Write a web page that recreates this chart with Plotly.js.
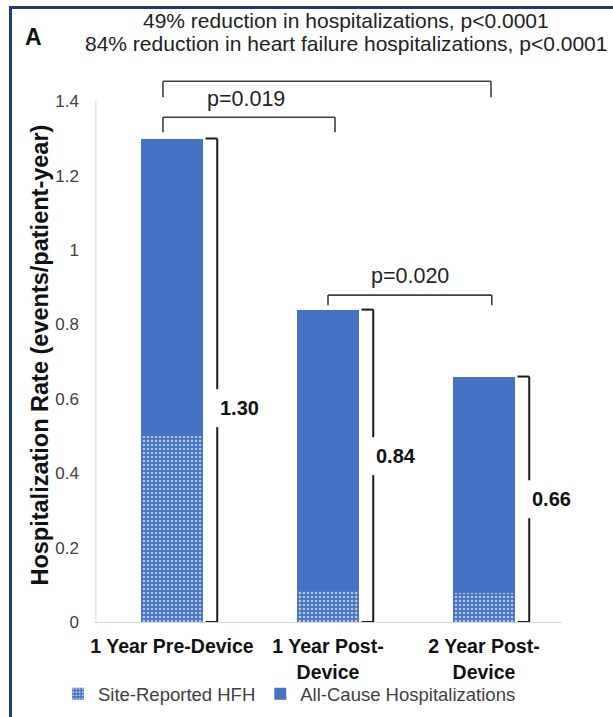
<!DOCTYPE html>
<html>
<head>
<meta charset="utf-8">
<script src="https://cdn.plot.ly/plotly-3.0.1.min.js"></script>
<style>
  html, body { margin: 0; padding: 0; background: #ffffff; }
  #wrap { position: relative; width: 613px; height: 717px; overflow: hidden; }
  #chart { position: absolute; left: 0; top: 0; width: 613px; height: 717px; }
  #frame { position: absolute; left: 9px; top: 6px; width: 620px; height: 720px;
           border-left: 3px solid #1d3b7c; border-top: 3px solid #1d3b7c; pointer-events: none; }
</style>
</head>
<body>
<div id="wrap">
  <div id="chart"></div>
  <div id="frame"></div>
</div>
<script>
// ---- data ----
const categories = ['1 Year Pre-Device', '1 Year Post-Device', '2 Year Post-Device'];
const tickLabels = ['1 Year Pre-Device', '1 Year Post-<br>Device', '2 Year Post-<br>Device'];
const allCauseTotal = [1.30, 0.84, 0.66];
const siteReportedHFH = [0.50, 0.086, 0.078];
const totalLabels = ['1.30', '0.84', '0.66'];
const yTickVals = [0, 0.2, 0.4, 0.6, 0.8, 1, 1.2, 1.4];
const yTickText = ['0', '0.2', '0.4', '0.6', '0.8', '1', '1.2', '1.4'];
const titleLines = ['49% reduction in hospitalizations, p<0.0001',
                    '84% reduction in heart failure hospitalizations, p<0.0001'];
const pValues = ['p=0.019', 'p=0.020'];

// remainder on top of HFH so stack totals equal all-cause totals
const allCauseRemainder = allCauseTotal.map((t, i) => +(t - siteReportedHFH[i]).toFixed(3));
const idx = categories.map((_, i) => i);

const FONT = 'Liberation Sans, Arial, sans-serif';
const BLUE = '#4472c4';
const traces = [
  {
    type: 'bar', name: 'Site-Reported HFH', x: idx, y: siteReportedHFH,
    width: 0.4,
    marker: { color: BLUE, line: { width: 0 },
      pattern: { shape: '.', bgcolor: BLUE, fgcolor: '#b4c7ec', size: 4, solidity: 0.35, fillmode: 'replace' } },
    hoverinfo: 'skip'
  },
  {
    type: 'bar', name: 'All-Cause Hospitalizations', x: idx, y: allCauseRemainder,
    width: 0.4,
    marker: { color: BLUE, line: { width: 0 } },
    hoverinfo: 'skip'
  }
];

// ---- decorations (positions) ----
const shapes = [];
const annotations = [];
const BR = '#1a1a1a';
const bracketOffset = 0.29, tickStart = 0.215;
const labelY = [0.575, 0.446, 0.33];
const gapHalf = 0.051;
idx.forEach(i => {
  const xb = i + bracketOffset, xt = i + tickStart, top = allCauseTotal[i];
  const ln = { color: BR, width: 2 };
  shapes.push({ type: 'line', xref: 'x', yref: 'y', x0: xt, x1: xb, y0: top, y1: top, line: ln });
  shapes.push({ type: 'line', xref: 'x', yref: 'y', x0: xb, x1: xb, y0: top, y1: labelY[i] + gapHalf, line: ln });
  shapes.push({ type: 'line', xref: 'x', yref: 'y', x0: xb, x1: xb, y0: labelY[i] - gapHalf, y1: 0, line: ln });
  shapes.push({ type: 'line', xref: 'x', yref: 'y', x0: xt, x1: xb, y0: 0, y1: 0, line: ln });
  annotations.push({ xref: 'x', yref: 'y', x: xb, y: labelY[i], text: '<b>' + totalLabels[i] + '</b>',
    showarrow: false, xanchor: 'left', xshift: 1, yanchor: 'middle',
    font: { family: FONT, size: 20, color: '#111111' } });
});

// significance brackets
const sigLine = { color: '#404040', width: 1.6 };
function sig(xa, xb, yTop, yLegA, yLegB) {
  shapes.push({ type: 'line', xref: 'x', yref: 'y', x0: xa, x1: xb, y0: yTop, y1: yTop, line: sigLine });
  shapes.push({ type: 'line', xref: 'x', yref: 'y', x0: xa, x1: xa, y0: yTop, y1: yLegA, line: sigLine });
  shapes.push({ type: 'line', xref: 'x', yref: 'y', x0: xb, x1: xb, y0: yTop, y1: yLegB, line: sigLine });
}
sig(-0.058, 2.045, 1.454, 1.411, 1.411);
sig(-0.058, 1.045, 1.357, 1.317, 1.317);
sig(1.0, 2.05, 0.879, 0.852, 0.852);

const pFont = { family: FONT, size: 21.5, color: '#222222' };
annotations.push({ xref: 'x', yref: 'y', x: 0.475, y: 1.405, text: pValues[0], showarrow: false,
  xanchor: 'center', yanchor: 'middle', font: pFont });
annotations.push({ xref: 'x', yref: 'y', x: 1.526, y: 0.93, text: pValues[1], showarrow: false,
  xanchor: 'center', yanchor: 'middle', font: pFont });

// title lines
const tFont = { family: FONT, size: 21, color: '#222222' };
annotations.push({ xref: 'paper', yref: 'paper', x: 0.538, y: 1.108, text: titleLines[0], showarrow: false,
  xanchor: 'center', yanchor: 'middle', font: tFont });
annotations.push({ xref: 'paper', yref: 'paper', x: 0.538, y: 1.066, text: titleLines[1], showarrow: false,
  xanchor: 'center', yanchor: 'middle', font: tFont });
// panel letter
annotations.push({ xref: 'paper', yref: 'paper', x: -0.130, y: 1.077, text: '<b>A</b>', showarrow: false,
  xanchor: 'center', yanchor: 'middle', font: { family: FONT, size: 23, color: '#111111' } });
// y-axis title
annotations.push({ xref: 'paper', yref: 'paper', x: -0.115, y: 0.491, textangle: -90,
  text: '<b>Hospitalization Rate (events/patient-year)</b>', showarrow: false,
  xanchor: 'center', yanchor: 'middle', font: { family: FONT, size: 23.5, color: '#111111' } });

// y axis line (stops at 1.4)
shapes.push({ type: 'line', xref: 'paper', yref: 'y', x0: 0.004, x1: 0.004, y0: 0, y1: 1.4,
  line: { color: '#d9d9d9', width: 1 } });

const layout = {
  width: 613, height: 717,
  margin: { l: 94, r: 51, t: 79, b: 95, autoexpand: false },
  paper_bgcolor: '#ffffff', plot_bgcolor: '#ffffff',
  barmode: 'stack', bargap: 0.6,
  showlegend: true,
  legend: { orientation: 'h', x: -0.077, xanchor: 'left', y: -0.133, yanchor: 'middle',
    traceorder: 'normal', bgcolor: 'rgba(0,0,0,0)',
    font: { family: FONT, size: 18.5, color: '#404040' } },
  xaxis: {
    type: 'linear', range: [-0.5, 2.5], tickvals: idx,
    ticktext: tickLabels.map(t => '<b>' + t.replace('<br>', '</b><br><b>') + '</b>'),
    showline: true, linecolor: '#d9d9d9', linewidth: 1, showgrid: false, zeroline: false,
    ticks: '', ticklabelstandoff: 7, tickfont: { family: FONT, size: 19.5, color: '#111111' },
    fixedrange: true
  },
  yaxis: {
    range: [0, 1.46], tickvals: yTickVals, ticktext: yTickText,
    showline: false, showgrid: false, zeroline: false, ticks: '', ticklabelstandoff: 14,
    tickfont: { family: FONT, size: 17, color: '#404040' },
    fixedrange: true
  },
  shapes: shapes,
  annotations: annotations
};

Plotly.newPlot('chart', traces, layout, { displayModeBar: false, staticPlot: true });
</script>
</body>
</html>
